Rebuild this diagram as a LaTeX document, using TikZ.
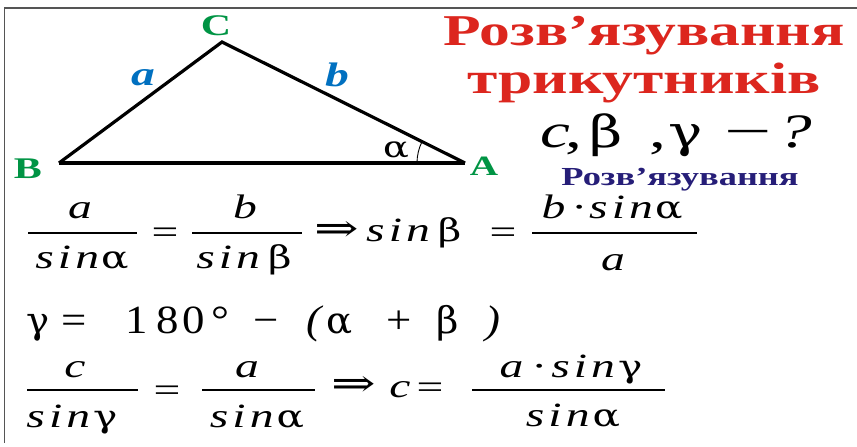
\documentclass[tikz,border=0pt]{standalone}
\usepackage{fontspec}
\setmainfont{Liberation Serif}
\newfontfamily\ff[FakeStretch=1.4]{Liberation Serif}
\newfontfamily\ffm[FakeStretch=1.12]{Liberation Serif}
\newfontfamily\ffw[FakeStretch=1.75]{Liberation Serif}
\newfontfamily\ffs[FakeStretch=1.4,LetterSpace=12]{Liberation Serif}
\newfontfamily\gk[FakeStretch=1.3,Scale=0.92]{DejaVu Serif}
\newfontfamily\gkm[FakeStretch=1.05,Scale=0.92]{DejaVu Serif}
\newfontfamily\arr[FakeStretch=1.4]{DejaVu Serif}
\newcommand{\gr}[1]{{\gk #1}}
\newcommand{\grm}[1]{{\gkm #1}}
\definecolor{tred}{RGB}{220,38,30}
\definecolor{tgreen}{RGB}{0,148,68}
\definecolor{tblue}{RGB}{0,112,192}
\definecolor{tnavy}{RGB}{38,30,120}
\definecolor{fram}{RGB}{85,85,85}
\tikzset{
 fm/.style={inner sep=0pt, anchor=base, font=\ffs\fontsize{34}{34}\selectfont},
 fmc/.style={inner sep=0pt, anchor=center, font=\ffs\fontsize{34}{34}\selectfont},
 fm2/.style={inner sep=0pt, anchor=base, font=\ffm\fontsize{40}{40}\selectfont},
 arrw/.style={inner sep=0pt, anchor=center, font=\arr\fontsize{38}{38}\selectfont},
 vlab/.style={inner sep=0pt, anchor=base, text=tgreen, font=\ff\bfseries\fontsize{30}{30}\selectfont},
 slab/.style={inner sep=0pt, anchor=base, text=tblue, font=\ff\bfseries\itshape\fontsize{34}{34}\selectfont},
 ttl/.style={inner sep=0pt, anchor=base, text=tred, font=\ff\bfseries\fontsize{44}{44}\selectfont},
 qst/.style={inner sep=0pt, anchor=base, font=\ff\fontsize{48}{48}\selectfont},
 sub/.style={inner sep=0pt, anchor=base, text=tnavy, font=\ff\bfseries\fontsize{26}{26}\selectfont},
 fbar/.style={line width=1.6pt},
}
\begin{document}
\begin{tikzpicture}[x=1pt,y=-1pt]
\useasboundingbox (0,0) rectangle (857,447);
% frame
\draw[fram, line width=1.6pt] (857,8) -- (4.5,8) -- (4.5,443);
% triangle
\coordinate (B) at (59,163);
\coordinate (C) at (222,42);
\coordinate (A) at (465,163);
\draw[line width=3.2pt, line join=miter] (B) -- (C) -- (A);
\draw[line width=4pt] (B) -- (A);
\draw[line width=0.9pt] ([shift={(180:48)}]A) arc[start angle=180, end angle=206.3, radius=48];
\node[vlab] (lC) at (216,35) {C};
\node[vlab] (lB) at (28,178) {B};
\node[vlab, font=\ff\bfseries\fontsize{28}{28}\selectfont] (lA) at (484,175) {A};
\node[slab] (la) at (143,85) {a};
\node[slab] (lb) at (337,86) {b};
\node[inner sep=0pt, anchor=base, font=\ff\fontsize{32}{32}\selectfont] (lal) at (396,157) {\gr{α}};
% titles
\node[ttl] (t1) at (644,45) {Розв’язування};
\node[ttl] (t2) at (644,93) {трикутників};
\node[qst] (q1) at (555,147) {\textit{c}};
\node[qst] (q2) at (574,147) {,};
\node[qst] (q3) at (606,147) {\gr{β}};
\node[qst] (q4) at (658,147) {,};
\node[qst] (q5) at (686,147) {\gr{γ}};
\node[qst, font=\ffw\fontsize{48}{48}\selectfont] (q6) at (748,147) {−};
\node[qst] (q7) at (795,147) {\textit{?}};
\node[sub] (s1) at (680,185) {Розв’язування};
% line 1
\node[fm] (n1) at (82,218) {\textit{a}};
\draw[fbar] (28,233) -- (137,233);
\node[fm] (d1) at (82,268) {\textit{sin}\kern-2pt\gr{α}};
\node[fmc] (e1) at (165,236) {=};
\node[fm] (n2) at (247,218) {\textit{b}};
\draw[fbar] (192,233) -- (302,233);
\node[fm] (d2) at (244,268) {\textit{sin}\kern4pt\gr{β}};
\node[arrw] (i1) at (337,231) {⇒};
\node[fm, anchor=base west] (m1) at (366,241) {\textit{sin}\kern4pt\gr{β}};
\node[fmc] (e2) at (503,236) {=};
\node[fm] (n3) at (612,218) {\textit{b}\kern2pt·\kern2pt\textit{sin}\kern-2pt\gr{α}};
\draw[fbar] (532,233) -- (697,233);
\node[fm] (d3) at (615,270) {\textit{a}};
% line 2
\node[fm2] (g1) at (38.5,333) {\grm{γ}};
\node[fm2] (g2) at (74,333) {=};
\node[fm2] (g3) at (136.5,333) {1};
\node[fm2] (g4) at (167.5,333) {8};
\node[fm2] (g5) at (194,333) {0};
\node[fm2] (g6) at (220,333) {°};
\node[fm2] (g7) at (266,333) {−};
\node[fm2] (g8) at (315,333) {\textit{(}};
\node[fm2] (g9) at (340,333) {\grm{α}};
\node[fm2] (g10) at (399,333) {+};
\node[fm2] (g11) at (448,333) {\grm{β}};
\node[fm2] (g12) at (493,333) {\textit{)}};
% line 3
\node[fm] (n4) at (77,377) {\textit{c}};
\draw[fbar] (27,390) -- (138,390);
\node[fm] (d4) at (72,427) {\textit{sin}\kern-1pt\gr{γ}};
\node[fmc] (e3) at (167,394) {=};
\node[fm] (n5) at (249,377) {\textit{a}};
\draw[fbar] (202,390) -- (315,390);
\node[fm] (d5) at (257,427) {\textit{sin}\kern-1pt\gr{α}};
\node[arrw] (i2) at (354,386) {⇒};
\node[fm] (m2) at (402,397) {\textit{c}};
\node[fmc] (e4) at (430,391) {=};
\node[fm] (n6) at (571,377) {\textit{a}\kern4pt·\kern4pt\textit{sin}\kern-1pt\gr{γ}};
\draw[fbar] (472,390) -- (665,390);
\node[fm] (d6) at (573,426) {\textit{sin}\kern-1pt\gr{α}};
\end{tikzpicture}
\end{document}
